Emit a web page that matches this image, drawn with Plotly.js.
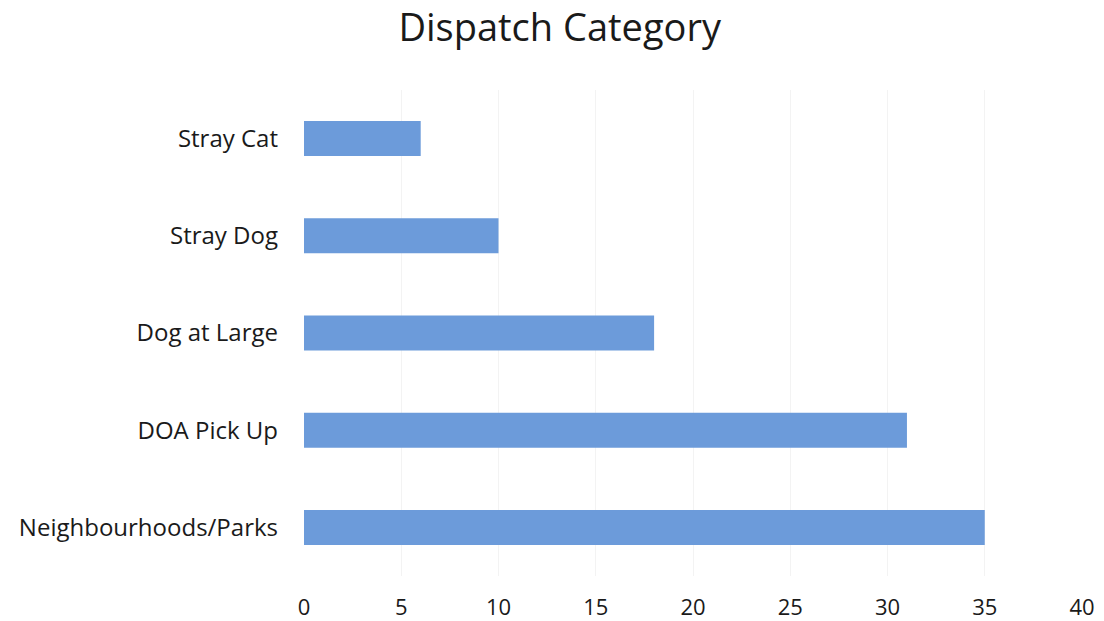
<!DOCTYPE html>
<html><head><meta charset="utf-8">
<script src="https://cdn.plot.ly/plotly-3.0.1.min.js"></script>
<style>html,body{margin:0;padding:0;background:#fff}#chart{width:1104px;height:621px}</style>
</head><body><div id="chart"></div>
<script>
const categories = ["Neighbourhoods/Parks", "DOA Pick Up", "Dog at Large", "Stray Dog", "Stray Cat"];
const values = [35, 31, 18, 10, 6];
const xTicks = [0, 5, 10, 15, 20, 25, 30, 35, 40];

const FONT = '"Open Sans", Lato, sans-serif';
Plotly.newPlot('chart', [{
  type: 'bar', orientation: 'h',
  x: values, y: categories,
  marker: {color: '#6c9bda'},
  hoverinfo: 'x+y'
}], {
  width: 1104, height: 621,
  margin: {l: 304, r: 22, t: 90, b: 45},
  paper_bgcolor: '#fff', plot_bgcolor: '#fff',
  bargap: 0.64,
  font: {family: FONT, color: '#1a1a1a'},
  title: {text: 'Dispatch Category', x: 0.507, xanchor: 'center', y: 0.955, yanchor: 'middle',
          font: {size: 38, color: '#1a1a1a', family: FONT}},
  xaxis: {range: [0, 40], tickvals: xTicks, ticktext: xTicks.map(String),
          showgrid: true, gridcolor: '#f3f3f3', zeroline: false, showline: false,
          tickfont: {size: 22}, ticks: '', ticklabelstandoff: 16, fixedrange: true},
  yaxis: {type: 'category', categoryorder: 'array', categoryarray: categories,
          showgrid: false, zeroline: false, showline: false,
          tickfont: {size: 24}, ticks: '', ticklabelstandoff: 25, fixedrange: true},
  showlegend: false
}, {displayModeBar: false, staticPlot: true});
</script></body></html>
